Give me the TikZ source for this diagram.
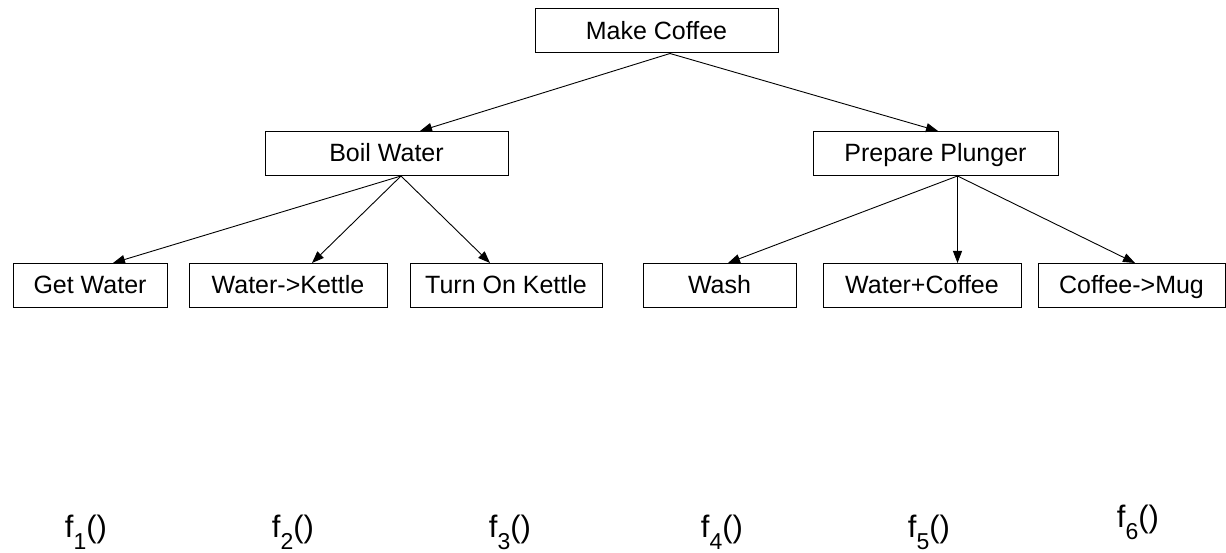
\documentclass[tikz,border=0pt]{standalone}
\usepackage{fontspec}
\setmainfont{Liberation Sans}
\usetikzlibrary{arrows.meta,calc}
% lowered subscript digit used in the function labels
\newcommand\fsub[1]{\raisebox{-12pt}{\fontsize{23}{23}\selectfont #1}}
\begin{document}
\begin{tikzpicture}[x=1pt,y=-1pt,
  box/.style={draw=black,line width=1pt,inner sep=0pt,minimum height=44pt,
              text height=18pt,text depth=1.5pt,
              font=\fontsize{25}{30}\selectfont},
  link/.style={draw=black,line width=0.9pt,-{Triangle[length=12pt,width=9pt]}},
  fn/.style={anchor=base,inner sep=0pt,font=\fontsize{31}{34}\selectfont}]
\useasboundingbox (0,0) rectangle (1226,553);

% task tree
\node[box,minimum width=243pt] (mc) at (656.5,31)  {Make Coffee};
\node[box,minimum width=243pt] (bw) at (386.5,153.5) {Boil Water};
\node[box,minimum width=245pt] (pp) at (935.5,153.5) {Prepare Plunger};

\node[box,minimum width=154pt] (gw) at (90,285.5)    {Get Water};
\node[box,minimum width=198pt] (wk) at (288,285.5)   {Water->Kettle};
\node[box,minimum width=192pt] (tk) at (506,285.5)   {Turn On Kettle};
\node[box,minimum width=153pt] (wa) at (719.5,285.5) {Wash};
\node[box,minimum width=198pt] (wc) at (922,285.5)   {Water+Coffee};
\node[box,minimum width=187pt] (cm) at (1131.5,285.5) {Coffee->Mug};

\draw[link] ($(mc.south)+(13.5,0)$) -- ($(bw.north)+(33.5,0)$);
\draw[link] ($(mc.south)+(13.5,0)$) -- ($(pp.north)+(2.5,0)$);

\draw[link] ($(bw.south)+(14.5,0)$) -- ($(gw.north)+(23,0)$);
\draw[link] ($(bw.south)+(14.5,0)$) -- ($(wk.north)+(24,0)$);
\draw[link] ($(bw.south)+(14.5,0)$) -- ($(tk.north)+(-16,0)$);

\draw[link] ($(pp.south)+(22,0)$) -- ($(wa.north)+(8.5,0)$);
\draw[link] ($(pp.south)+(22,0)$) -- ($(wc.north)+(35.5,0)$);
\draw[link] ($(pp.south)+(22,0)$) -- ($(cm.north)+(3.5,0)$);

% function labels
\node[fn] (f1) at (86,537)   {f\fsub{1}()};
\node[fn] (f2) at (293,537)  {f\fsub{2}()};
\node[fn] (f3) at (510,537)  {f\fsub{3}()};
\node[fn] (f4) at (722,537)  {f\fsub{4}()};
\node[fn] (f5) at (929,537)  {f\fsub{5}()};
\node[fn] (f6) at (1138,527) {f\fsub{6}()};
\end{tikzpicture}
\end{document}
